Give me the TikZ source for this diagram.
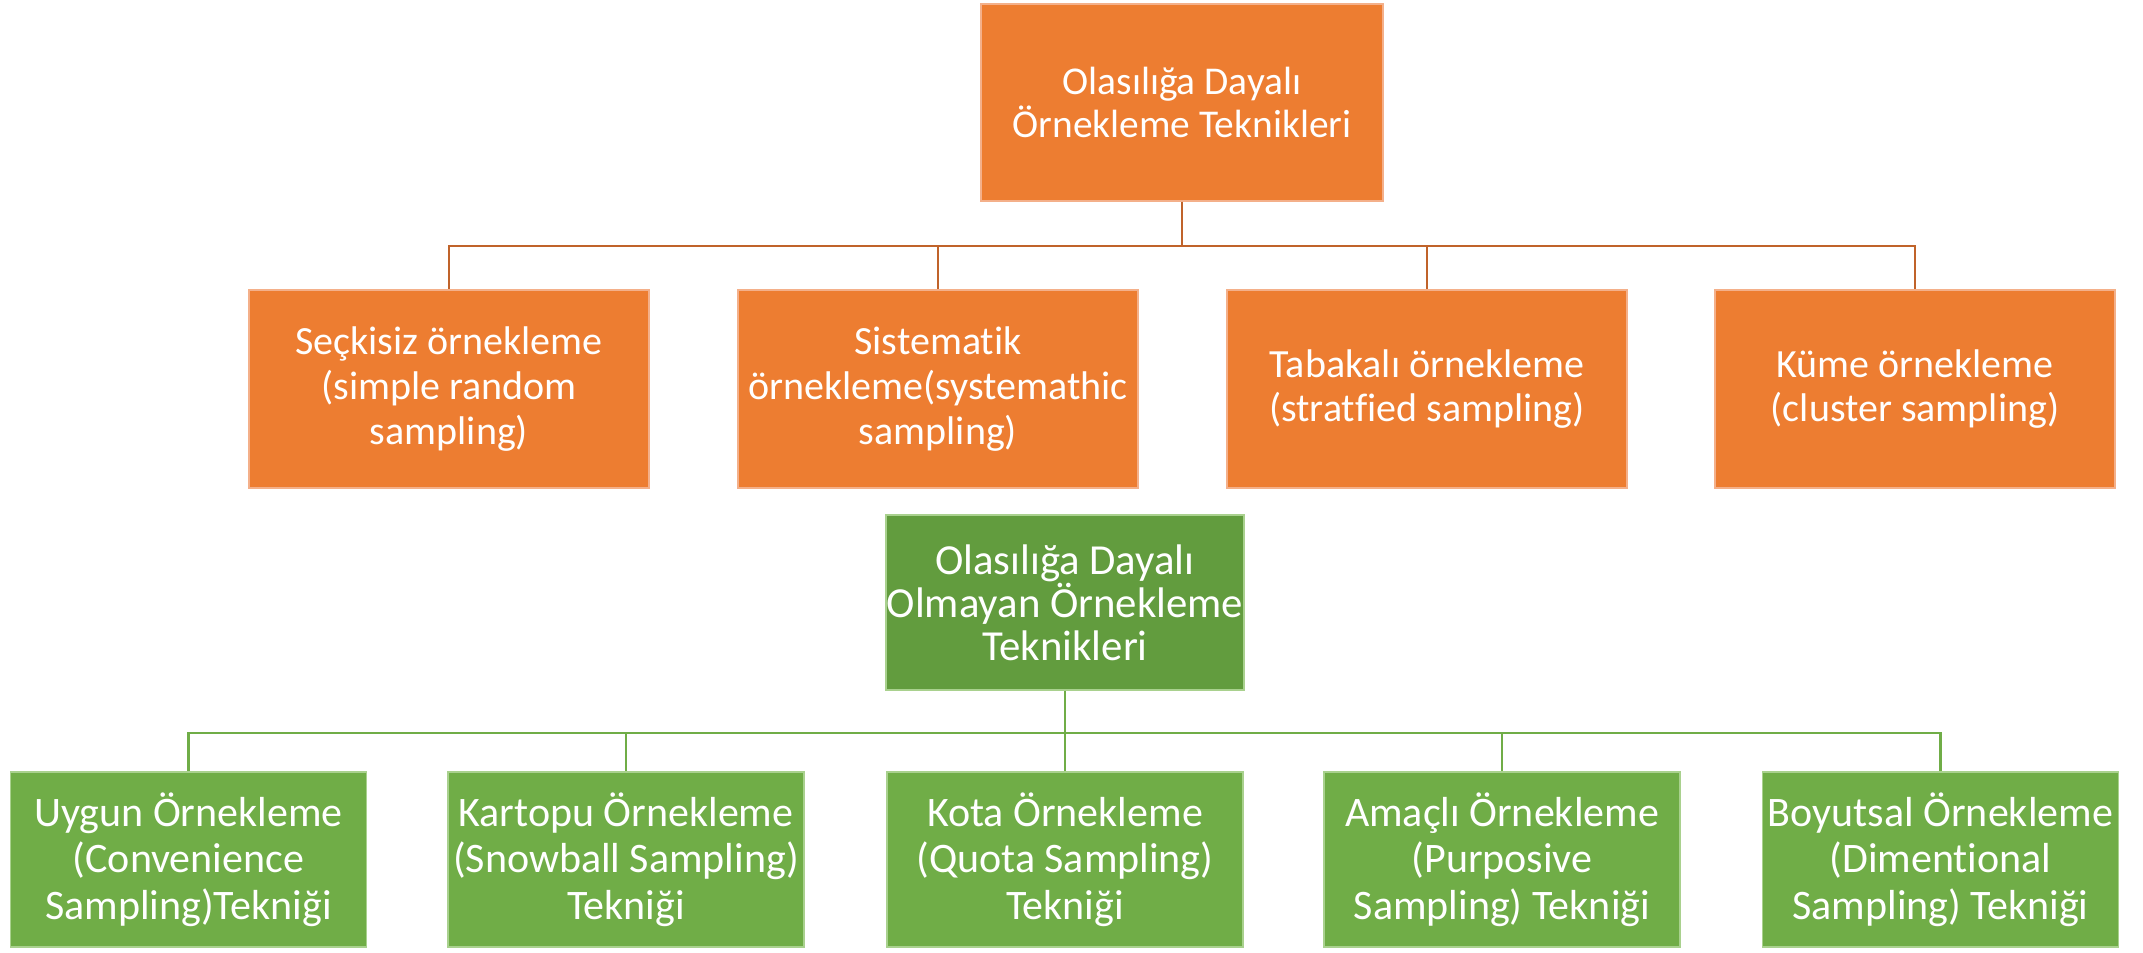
\documentclass[tikz,border=0pt]{standalone}
\usepackage{fontspec}
\setmainfont{Carlito}[Ligatures=NoCommon]
\definecolor{orfill}{HTML}{ED7D31}
\definecolor{orline}{HTML}{C0632A}
\definecolor{orborder}{HTML}{F4B08A}
\definecolor{grdark}{HTML}{629C3E}
\definecolor{grfill}{HTML}{70AD47}
\definecolor{grborder}{HTML}{A9D18E}
\begin{document}
\begin{tikzpicture}[x=0.5pt,y=-0.5pt,
  box/.style={rectangle,inner sep=0pt,align=center,text=white},
  orhead/.style={box,fill=orfill,draw=orborder,line width=0.6pt,minimum width=201pt,minimum height=98.5pt,font=\fontsize{19.7}{21.5}\selectfont},
  orbox/.style={box,fill=orfill,draw=orborder,line width=0.6pt,minimum width=200pt,minimum height=99pt,font=\fontsize{20}{22.3}\selectfont},
  grhead/.style={box,fill=grdark,draw=grborder,line width=0.6pt,minimum width=179pt,minimum height=87.5pt,font=\fontsize{21.4}{21.5}\selectfont},
  grbox/.style={box,fill=grfill,draw=grborder,line width=0.6pt,minimum width=178pt,minimum height=87.5pt,font=\fontsize{21}{23.2}\selectfont},
  orconn/.style={draw=orline,line width=1.4pt},
  grconn/.style={draw=grfill,line width=1.3pt}]
\useasboundingbox (0,0) rectangle (2143,953);

% probability sampling branch
\node[orhead] (top) at (1182,102.5) {Olasılığa Dayalı\\Örnekleme Teknikleri};
\node[orbox] (o1) at (449,389) {Seçkisiz örnekleme\\(simple random\\sampling)};
\node[orbox] (o2) at (938,389) {Sistematik\\örnekleme(systemathic\\sampling)};
\node[orbox] (o3) at (1427,389) {Tabakalı örnekleme\\(stratfied sampling)};
\node[orbox] (o4) at (1915,389) {Küme örnekleme\\(cluster sampling)};
\coordinate (obus) at (1182,246);
\draw[orconn] (top.south) -- (obus);
\foreach \c in {o1,o2,o3,o4} \draw[orconn] (obus) -| (\c.north);

% non-probability sampling branch
\node[grhead] (gtop) at (1065,602.5) {Olasılığa Dayalı\\Olmayan Örnekleme\\Teknikleri};
\node[grbox] (g1) at (188.5,859.5) {Uygun Örnekleme\\(Convenience\\Sampling)Tekniği};
\node[grbox] (g2) at (626,859.5) {Kartopu Örnekleme\\(Snowball Sampling)\\Tekniği};
\node[grbox] (g3) at (1065,859.5) {Kota Örnekleme\\(Quota Sampling)\\Tekniği};
\node[grbox] (g4) at (1502,859.5) {Amaçlı Örnekleme\\(Purposive\\Sampling) Tekniği};
\node[grbox] (g5) at (1940.5,859.5) {Boyutsal Örnekleme\\(Dimentional\\Sampling) Tekniği};
\coordinate (gbus) at (1065,733);
\draw[grconn] (gtop.south) -- (gbus);
\foreach \c in {g1,g2,g3,g4,g5} \draw[grconn] (gbus) -| (\c.north);
\end{tikzpicture}
\end{document}
